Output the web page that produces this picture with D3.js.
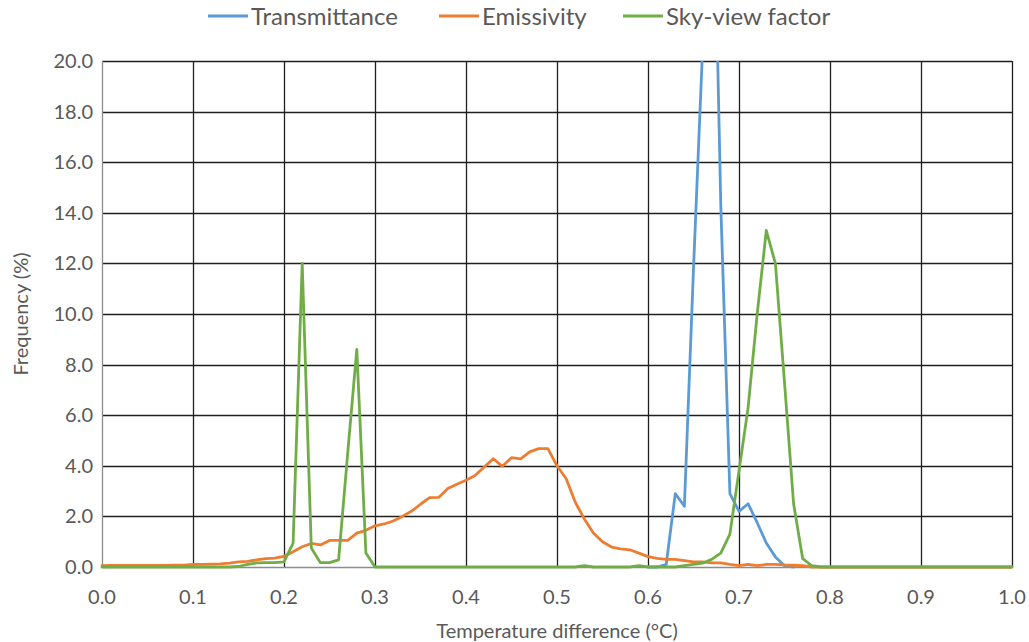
<!DOCTYPE html>
<html>
<head>
<meta charset="utf-8">
<script src="https://cdn.jsdelivr.net/npm/d3@7"></script>
<style>
  body { margin: 0; background: #fff; }
  svg { display: block; font-family: Lato, "Open Sans", sans-serif; }
</style>
</head>
<body>
<svg></svg>
<script>
const width = 1029;
const height = 642;

// temperature difference bins, 0.00 .. 1.00
const bins = d3.range(0, 101).map(i => i / 100);

// null = empty cell (no line drawn)
const transmittance = [
  null, null, null, null, null, null, null, null, null, null,
  null, null, null, null, null, null, null, null, null, null,
  null, null, null, null, null, null, null, null, null, null,
  null, null, null, null, null, null, null, null, null, null,
  null, null, null, null, null, null, null, null, null, null,
  null, null, null, null, null, null, null, null, null, null,
  0, 0, 0.1, 2.9, 2.4, 11.8, 20.5, 31, 14.3, 2.9,
  2.2, 2.5, 1.75, 0.95, 0.4, 0.05, 0, null, null, null,
  null, null, null, null, null, null, null, null, null, null,
  null, null, null, null, null, null, null, null, null, null,
  null
];

const emissivity = [
  0.05, 0.06, 0.06, 0.06, 0.06, 0.06, 0.06, 0.06, 0.07, 0.07,
  0.1, 0.1, 0.11, 0.12, 0.15, 0.2, 0.22, 0.28, 0.33, 0.35,
  0.42, 0.6, 0.8, 0.93, 0.87, 1.05, 1.05, 1.05, 1.34, 1.45,
  1.63, 1.7, 1.82, 2.0, 2.2, 2.48, 2.74, 2.75, 3.1, 3.27,
  3.43, 3.62, 3.95, 4.28, 3.98, 4.32, 4.27, 4.55, 4.68, 4.68,
  4.0, 3.5, 2.57, 1.9, 1.34, 1.0, 0.79, 0.72, 0.68, 0.55,
  0.41, 0.34, 0.3, 0.3, 0.25, 0.2, 0.2, 0.16, 0.16, 0.1,
  0.05, 0.1, 0.05, 0.1, 0.1, 0.08, 0.07, 0.05, 0, 0,
  0, 0, 0, 0, 0, 0, 0, 0, 0, 0,
  0, 0, 0, 0, 0, 0, 0, 0, 0, 0,
  0
];

const skyView = [
  0, 0, 0, 0, 0, 0, 0, 0, 0, 0,
  0, 0, 0, 0, 0, 0.02, 0.1, 0.16, 0.17, 0.17,
  0.2, 0.94, 12.0, 0.75, 0.17, 0.17, 0.28, 4.5, 8.6, 0.55,
  0, 0, 0, 0, 0, 0, 0, 0, 0, 0,
  0, 0, 0, 0, 0, 0, 0, 0, 0, 0,
  0, 0, 0, 0.05, 0, 0, 0, 0, 0, 0.05,
  0, 0, 0, 0, 0.05, 0.1, 0.15, 0.3, 0.55, 1.3,
  3.8, 6.3, 10.0, 13.3, 12.0, 7.3, 2.5, 0.33, 0.05, 0,
  0, 0, 0, 0, 0, 0, 0, 0, 0, 0,
  0, 0, 0, 0, 0, 0, 0, 0, 0, 0,
  0
];

const seriesNames = ['Transmittance', 'Emissivity', 'Sky-view factor'];
const seriesColors = ['#5B9BD5', '#ED7D31', '#70AD47'];
const xTicks = [0, 0.1, 0.2, 0.3, 0.4, 0.5, 0.6, 0.7, 0.8, 0.9, 1.0];
const yTicks = [0, 2, 4, 6, 8, 10, 12, 14, 16, 18, 20];

const series = [transmittance, emissivity, skyView];

const margin = { top: 61, right: 17, bottom: 75, left: 102 };

const svg = d3.select('svg')
  .attr('width', width)
  .attr('height', height);

const x = d3.scaleLinear().domain([0, 1]).range([margin.left, width - margin.right]);
const y = d3.scaleLinear().domain([0, 20]).range([height - margin.bottom, margin.top]);

const textColor = '#595959';

svg.append('defs').append('clipPath')
    .attr('id', 'plot-clip')
  .append('rect')
    .attr('x', x(0) - 2)
    .attr('y', y(20))
    .attr('width', x(1) - x(0) + 4)
    .attr('height', y(0) - y(20) + 2);

// gridlines
svg.append('g')
  .selectAll('line')
  .data(yTicks.filter(d => d > 0))
  .join('line')
    .attr('x1', x(0))
    .attr('x2', x(1))
    .attr('y1', d => Math.round(y(d)) + 0.5)
    .attr('y2', d => Math.round(y(d)) + 0.5)
    .attr('stroke', '#1f1f1f')
    .attr('stroke-width', 1.3);

svg.append('g')
  .selectAll('line')
  .data(xTicks.filter(d => d > 0))
  .join('line')
    .attr('x1', d => Math.round(x(d)) + 0.5)
    .attr('x2', d => Math.round(x(d)) + 0.5)
    .attr('y1', y(20))
    .attr('y2', y(0))
    .attr('stroke', '#1f1f1f')
    .attr('stroke-width', 1.3);

// axes lines (grey)
svg.append('line')
  .attr('x1', Math.round(x(0)) + 0.5).attr('x2', Math.round(x(0)) + 0.5)
  .attr('y1', y(20)).attr('y2', y(0))
  .attr('stroke', '#8c8c8c').attr('stroke-width', 1.3);

svg.append('line')
  .attr('x1', x(0)).attr('x2', x(1))
  .attr('y1', Math.round(y(0)) + 0.5).attr('y2', Math.round(y(0)) + 0.5)
  .attr('stroke', '#8c8c8c').attr('stroke-width', 1.3);

// tick labels
svg.append('g')
  .selectAll('text')
  .data(yTicks)
  .join('text')
    .attr('x', x(0) - 9)
    .attr('y', d => y(d) + 7)
    .attr('text-anchor', 'end')
    .attr('fill', textColor)
    .attr('font-size', 20)
    .text(d => d.toFixed(1));

svg.append('g')
  .selectAll('text')
  .data(xTicks)
  .join('text')
    .attr('x', d => x(d))
    .attr('y', y(0) + 37)
    .attr('text-anchor', 'middle')
    .attr('fill', textColor)
    .attr('font-size', 20)
    .text(d => d.toFixed(1));

// axis titles
svg.append('text')
  .attr('x', (x(0) + x(1)) / 2)
  .attr('y', 638)
  .attr('text-anchor', 'middle')
  .attr('fill', textColor)
  .attr('font-size', 20)
  .text('Temperature difference (°C)');

svg.append('text')
  .attr('transform', `translate(28, ${(y(0) + y(20)) / 2}) rotate(-90)`)
  .attr('text-anchor', 'middle')
  .attr('fill', textColor)
  .attr('font-size', 20)
  .text('Frequency (%)');

// series lines
const line = d3.line()
  .defined(d => d !== null)
  .x((d, i) => x(bins[i]))
  .y(d => y(d));

svg.append('g')
    .attr('clip-path', 'url(#plot-clip)')
  .selectAll('path')
  .data(series)
  .join('path')
    .attr('fill', 'none')
    .attr('stroke', (d, i) => seriesColors[i])
    .attr('stroke-width', 2.8)
    .attr('stroke-linejoin', 'round')
    .attr('stroke-linecap', 'round')
    .attr('d', d => line(d));

// legend
const legendStarts = [208, 439, 623];
const legend = svg.append('g')
  .selectAll('g')
  .data(seriesNames)
  .join('g')
    .attr('transform', (d, i) => `translate(${legendStarts[i]}, 16)`);

legend.append('line')
  .attr('x1', 0).attr('x2', 40)
  .attr('stroke', (d, i) => seriesColors[i])
  .attr('stroke-width', 2.8);

legend.append('text')
  .attr('x', 43)
  .attr('y', 9)
  .attr('fill', textColor)
  .attr('font-size', 24)
  .text(d => d);
</script>
</body>
</html>
